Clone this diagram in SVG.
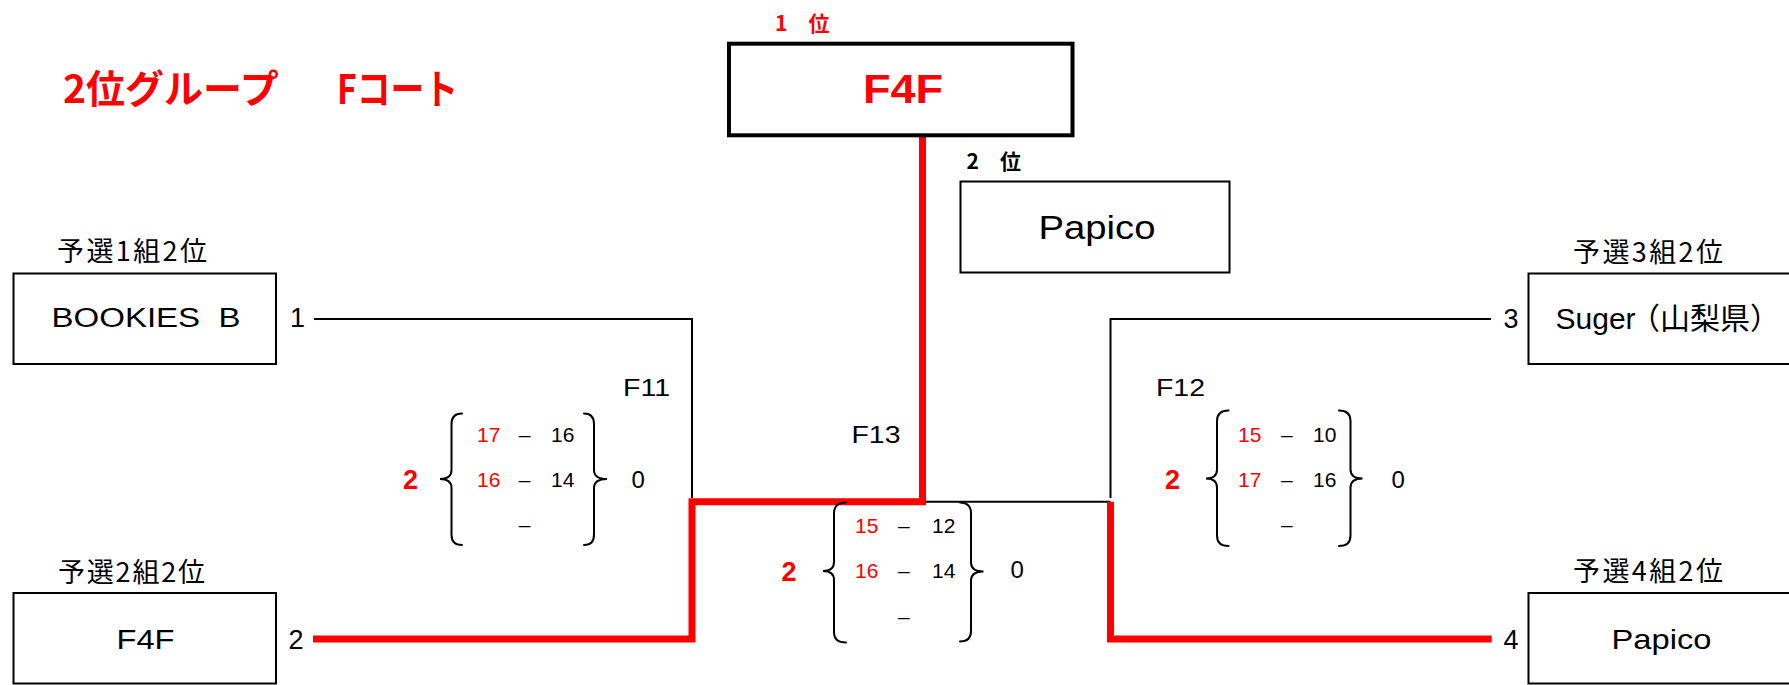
<svg xmlns="http://www.w3.org/2000/svg" width="1789" height="685" viewBox="0 0 1789 685">
<style>
.box{fill:#fff;stroke:#000;stroke-width:2}
.thick{stroke-width:4}
.ln{fill:none;stroke:#000;stroke-width:2}
.win{fill:none;stroke:#f00;stroke-width:7;stroke-linejoin:miter;stroke-linecap:butt}
.brace{fill:none;stroke:#000;stroke-width:2;stroke-linecap:round}
.t{font-family:"Liberation Sans","Noto Sans CJK JP",sans-serif;fill:#000}
.j{font-family:"Noto Sans CJK JP","Liberation Sans",sans-serif;fill:#000}
.r{fill:#f00}
.b{font-weight:bold}
.sc{font-size:21px}
.lbl{font-size:27px}
.num{font-size:27px}
.m{font-size:23px}
</style>
<rect width="1789" height="685" fill="#fff"/>

<g id="title">
  <text class="j r b" x="63" y="103" font-size="39">2位グループ</text>
  <text class="j r b" x="337" y="104" font-size="41" textLength="121" lengthAdjust="spacingAndGlyphs">Fコート</text>
</g>

<g id="connectors">
  <path class="ln" d="M314,319 H692 V498"/>
  <path class="ln" d="M1491,319 H1110.5 V498"/>
  <path class="ln" d="M926,501.7 H1110.5"/>
  <path class="win" d="M313,639 H692 V501.7 H922.5 V137"/>
  <path class="win" d="M1110.5,501.7 V639 H1491.7"/>
</g>

<g id="node-winner">
  <text class="j r b" x="775" y="31" font-size="21">1　位</text>
  <rect class="box thick" x="729" y="43.7" width="343.5" height="91.6"/>
  <text class="t r b" x="863" y="103" font-size="41" textLength="80" lengthAdjust="spacingAndGlyphs">F4F</text>
</g>

<g id="node-second">
  <text class="j b" x="966.5" y="168.5" font-size="21">2　位</text>
  <rect class="box" x="960.5" y="181.5" width="269" height="91"/>
  <text class="t" x="1038.5" y="238.5" font-size="33" textLength="117" lengthAdjust="spacingAndGlyphs">Papico</text>
</g>

<g id="node-bookies">
  <text class="j lbl" x="57" y="261" textLength="150" lengthAdjust="spacing">予選1組2位</text>
  <rect class="box" x="13.5" y="273.5" width="262.5" height="90.5"/>
  <text class="t lbl" x="51.5" y="327" textLength="189" lengthAdjust="spacingAndGlyphs" xml:space="preserve">BOOKIES  B</text>
  <text class="t num" x="290" y="327">1</text>
</g>

<g id="node-f4f">
  <text class="j lbl" x="58" y="582" textLength="147" lengthAdjust="spacing">予選2組2位</text>
  <rect class="box" x="13.5" y="593" width="262.5" height="90.5"/>
  <text class="t lbl" x="116.5" y="648.5" textLength="58" lengthAdjust="spacingAndGlyphs">F4F</text>
  <text class="t num" x="288.5" y="648.5">2</text>
</g>

<g id="node-suger">
  <text class="j lbl" x="1573" y="262" textLength="150" lengthAdjust="spacing">予選3組2位</text>
  <rect class="box" x="1528.5" y="273.5" width="300" height="90.5"/>
  <text class="t num" x="1503.5" y="327.5">3</text>
  <text class="t" y="328.5" font-size="30"><tspan x="1555.5">Suger</tspan><tspan x="1630">（山梨県）</tspan></text>
</g>

<g id="node-papico">
  <text class="j lbl" x="1573" y="580.5" textLength="150" lengthAdjust="spacing">予選4組2位</text>
  <rect class="box" x="1528.5" y="593" width="300" height="90.5"/>
  <text class="t num" x="1503.5" y="648.5">4</text>
  <text class="t" x="1611.5" y="648.5" font-size="28" textLength="100" lengthAdjust="spacingAndGlyphs">Papico</text>
</g>

<g id="match-f11">
  <text class="t m" x="623" y="396" textLength="47" lengthAdjust="spacingAndGlyphs">F11</text>
  <text class="t r b" x="403" y="489" font-size="27">2</text>
  <path class="brace" d="M462,413.5 Q451.5,413.5 451.5,424 V470 Q451.5,479 440,479 Q451.5,479 451.5,488 V534.5 Q451.5,545 462,545"/>
  <text class="t sc r" x="477" y="441.7">17</text>
  <text class="t sc" x="524.7" y="441.7" text-anchor="middle">–</text>
  <text class="t sc" x="551" y="441.7">16</text>
  <text class="t sc r" x="477" y="486.7">16</text>
  <text class="t sc" x="524.7" y="486.7" text-anchor="middle">–</text>
  <text class="t sc" x="551" y="486.7">14</text>
  <text class="t sc" x="524.7" y="531.5" text-anchor="middle">–</text>
  <path class="brace" d="M584,413.5 Q594,413.5 594,424 V470 Q594,479 607,479 Q594,479 594,488 V534.5 Q594,545 584,545"/>
  <text class="t" x="631.5" y="488.3" font-size="24">0</text>
</g>

<g id="match-f13">
  <text class="t m" x="851.5" y="442.7" textLength="49" lengthAdjust="spacingAndGlyphs">F13</text>
  <text class="t r b" x="781.5" y="580.7" font-size="27">2</text>
  <path class="brace" d="M846,502.5 Q834,502.5 834,513 V562 Q834,571 823,571 Q834,571 834,580 V632 Q834,642.5 846,642.5"/>
  <text class="t sc r" x="855" y="532.7">15</text>
  <text class="t sc" x="903.8" y="532.7" text-anchor="middle">–</text>
  <text class="t sc" x="932" y="532.7">12</text>
  <text class="t sc r" x="855" y="578.3">16</text>
  <text class="t sc" x="903.8" y="578.3" text-anchor="middle">–</text>
  <text class="t sc" x="932" y="578.3">14</text>
  <text class="t sc" x="903.8" y="624" text-anchor="middle">–</text>
  <path class="brace" d="M960,502.5 Q971,502.5 971,513 V562.5 Q971,571.5 983.5,571.5 Q971,571.5 971,580.5 V631 Q971,641.5 960,641.5"/>
  <text class="t" x="1010.5" y="578.3" font-size="24">0</text>
</g>

<g id="match-f12">
  <text class="t m" x="1156" y="396" textLength="49" lengthAdjust="spacingAndGlyphs">F12</text>
  <text class="t r b" x="1165" y="489.3" font-size="27">2</text>
  <path class="brace" d="M1228.5,410.5 Q1217,410.5 1217,421 V469.5 Q1217,478.5 1206,478.5 Q1217,478.5 1217,487.5 V535.5 Q1217,546 1228.5,546"/>
  <text class="t sc r" x="1238" y="441.7">15</text>
  <text class="t sc" x="1286.8" y="441.7" text-anchor="middle">–</text>
  <text class="t sc" x="1313" y="441.7">10</text>
  <text class="t sc r" x="1238" y="486.7">17</text>
  <text class="t sc" x="1286.8" y="486.7" text-anchor="middle">–</text>
  <text class="t sc" x="1313" y="486.7">16</text>
  <text class="t sc" x="1286.8" y="531.5" text-anchor="middle">–</text>
  <path class="brace" d="M1339,410.5 Q1350.5,410.5 1350.5,421 V469.5 Q1350.5,478.5 1362.5,478.5 Q1350.5,478.5 1350.5,487.5 V535.5 Q1350.5,546 1339,546"/>
  <text class="t" x="1391.5" y="488.3" font-size="24">0</text>
</g>
</svg>
